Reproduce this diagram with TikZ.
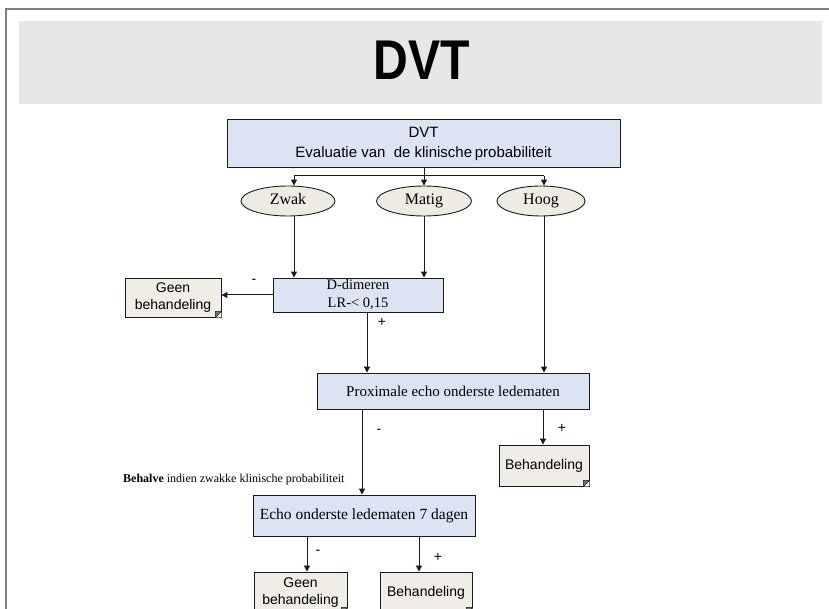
\documentclass[tikz,border=0pt]{standalone}
\usepackage{fontspec}
\setmainfont{Liberation Serif}
\newfontfamily\arialf{Liberation Sans}
\usetikzlibrary{arrows.meta,shapes.geometric}

\definecolor{bannergray}{HTML}{E6E7E8}
\definecolor{framegray}{HTML}{808080}
\definecolor{boxblue}{HTML}{DCE4F3}
\definecolor{notebeige}{HTML}{F0EDE6}
\definecolor{ovalbeige}{HTML}{EEEBE3}
\definecolor{inkline}{HTML}{1A1A1A}

\tikzset{
  bluebox/.style={draw=inkline, fill=boxblue, line width=0.9pt, inner sep=0pt, align=center},
  notebox/.style={draw=inkline, fill=notebeige, line width=0.9pt, inner sep=0pt, align=center,
                  font=\arialf\fontsize{14}{17}\selectfont},
  oval/.style={ellipse, draw=inkline, fill=ovalbeige, line width=0.9pt, inner sep=0pt,
               minimum height=30pt, text height=10.5pt, text depth=3pt,
               font=\fontsize{16}{18}\selectfont},
  flow/.style={draw=inkline, line width=1pt, -{Triangle[length=6pt,width=6pt]}},
  plainline/.style={draw=inkline, line width=1pt},
  sign/.style={inner sep=0pt, font=\arialf\fontsize{14}{14}\selectfont},
  fold/.style={fill=black!55, draw=inkline, line width=0.5pt}
}

\begin{document}
\begin{tikzpicture}[x=1pt, y=-1pt]
\useasboundingbox (0,0) rectangle (829,609);
\clip (0,0) rectangle (829,609);

% page frame and title banner
\draw[framegray, line width=2pt] (6,612) -- (6,9) -- (832,9);
\fill[bannergray] (19,21) rectangle (822,104);
\node[inner sep=0pt, xscale=0.86, font=\arialf\bfseries\fontsize{56}{56}\selectfont] (title) at (421.5,60) {DVT};

% main boxes
\node[bluebox, minimum width=393pt, minimum height=48pt,
      font=\arialf\fontsize{15}{20}\selectfont] (eval) at (423.5,143.5)
      {DVT\\Evaluatie van\ \ de klinische\hspace{-1.5pt} probabiliteit};

\node[oval, minimum width=94pt] (zwak) at (288,201) {Zwak};
\node[oval, minimum width=95pt] (matig) at (424,201) {Matig};
\node[oval, minimum width=88pt] (hoog) at (541,201) {Hoog};

\node[bluebox, font=\fontsize{14.5}{18}\selectfont, minimum width=170pt, minimum height=34pt] (ddim) at (358,295)
      {D-dimeren\\LR-< 0,15};
\node[notebox, minimum width=96pt, minimum height=39pt] (geen1) at (173,297.5)
      {Geen\\behandeling};

\node[bluebox, font=\fontsize{15}{18}\selectfont, minimum width=272pt, minimum height=36pt] (prox) at (453,391)
      {Proximale echo onderste ledematen};
\node[notebox, minimum width=90pt, minimum height=41pt] (beh1) at (544,465.5) {Behandeling};

\node[anchor=west, inner sep=0pt, font=\fontsize{12}{14}\selectfont] (behalve) at (123,480)
      {\textbf{Behalve} indien zwakke klinische probabiliteit};

\node[bluebox, font=\fontsize{15.5}{18}\selectfont, minimum width=222pt, minimum height=41pt] (echo) at (364,515.5)
      {Echo onderste ledematen 7 dagen};
\node[notebox, minimum width=93pt, minimum height=41pt] (geen2) at (300.5,592.5)
      {Geen\\behandeling};
\node[notebox, minimum width=92pt, minimum height=41pt] (beh2) at (426,592.5) {Behandeling};

% folded corners of the note boxes
\foreach \n in {geen1,beh1,geen2,beh2}{
  \fill[white] ([xshift=-6pt]\n.south east) -- (\n.south east) -- ([yshift=6pt]\n.south east) -- cycle;
  \draw[fold] ([xshift=-6pt]\n.south east) -- ([yshift=6pt]\n.south east) -- ([xshift=-6pt,yshift=6pt]\n.south east) -- cycle;
}

% branch points
\coordinate (jz) at (294,176);
\coordinate (jm) at (424,176);
\coordinate (jh) at (544,176);
\coordinate (cd) at (367,0);
\coordinate (cp) at (362,0);
\coordinate (cb) at (543,0);
\coordinate (ce1) at (307,0);
\coordinate (ce2) at (419,0);

% connectors
\draw[plainline] (eval.south -| jm) -- (jm);
\draw[plainline] (jz) -- (jh);
\draw[flow] (jz) -- (jz |- zwak.north);
\draw[flow] (jm) -- (jm |- matig.north);
\draw[flow] (jh) -- (jh |- hoog.north);

\draw[flow] (jz |- zwak.south) -- (jz |- ddim.north);
\draw[flow] (jm |- matig.south) -- (jm |- ddim.north);
\draw[flow] (jh |- hoog.south) -- (jh |- prox.north);

\draw[flow] (ddim.west) -- (ddim.west -| geen1.east);
\draw[flow] (cd |- ddim.south) -- (cd |- prox.north);

\draw[flow] (cp |- prox.south) -- (cp |- echo.north);
\draw[flow] (cb |- prox.south) -- (cb |- beh1.north);

\draw[flow] (ce1 |- echo.south) -- (ce1 |- geen2.north);
\draw[flow] (ce2 |- echo.south) -- (ce2 |- beh2.north);

% branch signs
\node[sign] (s1) at (254,281) {-};
\node[sign] (s2) at (382,322) {+};
\node[sign] (s3) at (379,431) {-};
\node[sign] (s4) at (562,428) {+};
\node[sign] (s5) at (318,552) {-};
\node[sign] (s6) at (438,557) {+};
\end{tikzpicture}
\end{document}
